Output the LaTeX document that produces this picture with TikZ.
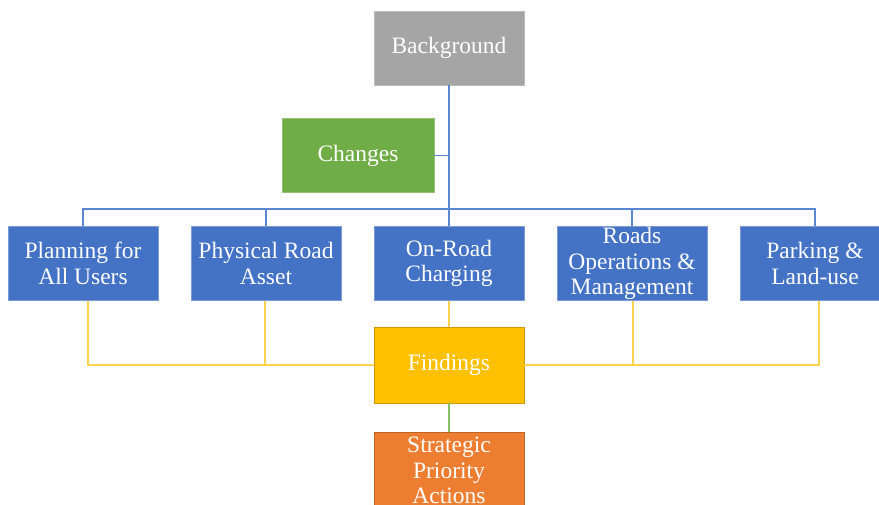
\documentclass[tikz,border=0pt]{standalone}
\usepackage{fontspec}
\setmainfont{Liberation Serif}
\definecolor{bggray}{HTML}{A5A5A5}
\definecolor{chgreen}{HTML}{70AD47}
\definecolor{topicblue}{HTML}{4472C4}
\definecolor{findyellow}{HTML}{FFC000}
\definecolor{actorange}{HTML}{ED7D31}
\definecolor{bluelink}{HTML}{5B87D2}
\definecolor{yellowlink}{HTML}{FFD34F}
\definecolor{greenlink}{HTML}{86C064}
\begin{document}
\begin{tikzpicture}[x=1pt,y=-1pt,
    box/.style={rectangle,minimum width=150pt,minimum height=74pt,inner xsep=2pt,inner ysep=0pt,
        text=white,align=center,line width=0.8pt,
        font=\fontsize{23.5}{25.5}\selectfont},
    bluelines/.style={draw=bluelink,line width=1.5pt},
    yellowlines/.style={draw=yellowlink,line width=1.5pt}]
    \useasboundingbox (0,0) rectangle (879,505);
    \clip (0,0) rectangle (879,505);
    \node[box,fill=bggray,draw=bggray!75!white] (bg) at (449,48) {Background};
    \node[box,fill=chgreen,draw=chgreen!75!white,minimum width=152pt] (chg) at (358,155.5) {Changes};
    \node[box,fill=topicblue,draw=topicblue!70!white] (plan) at (83,263.5) {Planning for\\All Users};
    \node[box,fill=topicblue,draw=topicblue!70!white] (phys) at (266,263.5) {Physical Road\\Asset};
    \node[box,fill=topicblue,draw=topicblue!70!white] (onrd) at (449,263.5) {On-Road\\Charging};
    \node[box,fill=topicblue,draw=topicblue!70!white] (ops) at (632,263.5) {Roads\\Operations \&\\Management};
    \node[box,fill=topicblue,draw=topicblue!70!white] (park) at (815,263.5) {Parking \&\\Land-use};
    \node[box,fill=findyellow,draw=findyellow!80!black,minimum height=76pt] (find) at (449,365) {Findings};
    \node[box,fill=actorange,draw=actorange!80!black,minimum height=76pt] (act) at (449,470.5) {Strategic\\Priority\\Actions};
    \coordinate (bus) at (449,209);

    \draw[bluelines] (bg.south) -- (onrd.north);
    \draw[bluelines] (chg.east) -- (chg.east -| bg.south);
    \draw[bluelines] (plan.north) |- (bus) -| (park.north);
    \draw[bluelines] (phys.north) -- (phys.north |- bus);
    \draw[bluelines] (ops.north) -- (ops.north |- bus);

    \draw[yellowlines] (find.west) -| ([xshift=5pt]plan.south);
    \draw[yellowlines] (find.east) -| ([xshift=4pt]park.south);
    \draw[yellowlines] ([xshift=-1pt]phys.south) -- ([xshift=-1pt]phys.south |- find.west);
    \draw[yellowlines] ([xshift=1pt]ops.south) -- ([xshift=1pt]ops.south |- find.east);
    \draw[yellowlines] (onrd.south) -- (find.north);
    \draw[draw=greenlink,line width=1.5pt] (find.south) -- (act.north);
\end{tikzpicture}
\end{document}
